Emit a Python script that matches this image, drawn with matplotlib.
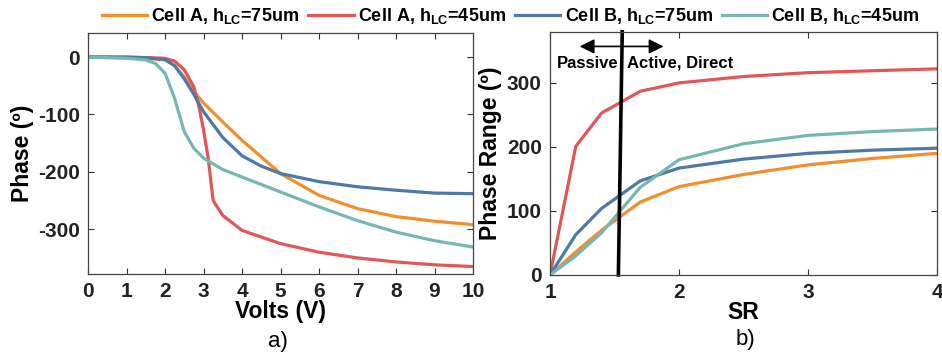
import matplotlib
matplotlib.use("Agg")
import matplotlib.pyplot as plt

plt.rcParams['font.family'] = ['Liberation Sans', 'DejaVu Sans']
plt.rcParams['mathtext.fontset'] = 'custom'
plt.rcParams['mathtext.bf'] = 'Liberation Sans:bold'
plt.rcParams['mathtext.rm'] = 'Liberation Sans'
plt.rcParams['axes.unicode_minus'] = False

# ---- data: phase vs. voltage ----
volts_a75 = [0, 1, 1.5, 2, 2.25, 2.5, 2.75, 3, 3.5, 4, 5, 6, 7, 8, 9, 10]
phase_a75 = [0, -1, -2, -5, -15, -35, -60, -80, -113, -145, -203, -241, -264, -278, -286, -292]

volts_a45 = [0, 1, 1.5, 2, 2.25, 2.5, 2.75, 2.9, 3.0, 3.12, 3.25, 3.5, 4, 5, 6, 7, 8, 9, 10]
phase_a45 = [0, 0, -1, -2, -7, -22, -52, -92, -127, -175, -250, -276, -302, -325, -340, -350, -357, -362, -365]

volts_b75 = [0, 1, 1.5, 2, 2.25, 2.5, 2.75, 3, 3.5, 4, 4.5, 5, 6, 7, 8, 9, 10]
phase_b75 = [0, 0, -1, -4, -15, -38, -65, -95, -140, -172, -190, -203, -217, -226, -232, -237, -238]

volts_b45 = [0, 1, 1.5, 1.75, 2, 2.25, 2.5, 2.75, 3, 3.5, 4, 5, 6, 7, 8, 9, 10]
phase_b45 = [0, -2, -5, -11, -28, -72, -130, -159, -176, -196, -209, -235, -261, -285, -305, -320, -331]

# ---- data: phase range vs. SR ----
sr = [1, 1.2, 1.4, 1.7, 2, 2.5, 3, 3.5, 4]
range_a75 = [0, 36, 70, 114, 138, 157, 172, 182, 190]
range_a45 = [0, 201, 253, 287, 300, 310, 316, 319, 322]
range_b75 = [0, 63, 104, 147, 167, 181, 190, 195, 198]
range_b45 = [0, 30, 66, 137, 180, 205, 218, 224, 228]

labels = [r'Cell A, h$_{\mathbf{LC}}$=75um', r'Cell A, h$_{\mathbf{LC}}$=45um',
          r'Cell B, h$_{\mathbf{LC}}$=75um', r'Cell B, h$_{\mathbf{LC}}$=45um']
colors = ['#F28E2B', '#E15759', '#4E79A7', '#76B7B2']

left_xticks = list(range(0, 11))
left_yticks = [0, -100, -200, -300]
right_xticks = [1, 2, 3, 4]
right_yticks = [0, 100, 200, 300]

lw = 2.3
fig = plt.figure(figsize=(9.42, 3.56), dpi=100)

ax1 = fig.add_axes([88/942, 82/356, 385/942, 241/356])
ax2 = fig.add_axes([550/942, 81/356, 387/942, 243.3/356])

left_series = [(volts_a75, phase_a75), (volts_a45, phase_a45),
               (volts_b75, phase_b75), (volts_b45, phase_b45)]
handles = []
for (x, y), c, lab in zip(left_series, colors, labels):
    h, = ax1.plot(x, y, color=c, lw=lw, label=lab)
    handles.append(h)

for y, c in zip([range_a75, range_a45, range_b75, range_b45], colors):
    ax2.plot(sr, y, color=c, lw=lw)

ax1.set_xlim(0, 10)
ax1.set_ylim(-378, 42)
ax1.set_xticks(left_xticks)
ax1.set_yticks(left_yticks)
ax1.set_xlabel('Volts (V)', fontsize=16.5, fontweight='bold', labelpad=-1)
ax1.set_ylabel('Phase (º)', fontsize=16.5, fontweight='bold', labelpad=3)

ax2.set_xlim(1, 4)
ax2.set_ylim(0, 380)
ax2.set_xticks(right_xticks)
ax2.set_yticks(right_yticks)
ax2.set_xlabel('SR', fontsize=16.5, fontweight='bold', labelpad=-1)
ax2.set_ylabel('Phase Range (º)', fontsize=16.5, fontweight='bold', labelpad=3)

for ax in (ax1, ax2):
    ax.tick_params(direction='in', top=True, right=True, length=4, width=0.8,
                   colors='#333333', labelcolor='#222222', labelsize=15, pad=6)
    for lab in ax.get_xticklabels() + ax.get_yticklabels():
        lab.set_fontweight('bold')
    for s in ax.spines.values():
        s.set_color('#444444')
        s.set_linewidth(0.9)

# boundary between passive and active operation
ax2.plot([1.53, 1.56], [0, 380], color='black', lw=2.6, clip_on=False)
ax2.annotate('', xy=(1.23, 357), xytext=(1.88, 357),
             arrowprops=dict(arrowstyle='<|-|>', color='black', lw=1.2,
                             mutation_scale=22, shrinkA=0, shrinkB=0))
ax2.text(1.05, 331, 'Passive', fontsize=12, fontweight='bold', va='center', ha='left')
ax2.text(1.60, 331, 'Active, Direct', fontsize=12, fontweight='bold', va='center', ha='left')

fig.text(278/942, 1 - 341/356, 'a)', fontsize=16, ha='center', va='center')
fig.text(745/942, 1 - 340/356, 'b)', fontsize=16, ha='center', va='center')

leg = fig.legend(handles=handles, loc='upper center', ncol=4,
                 bbox_to_anchor=(0.542, 1.028), frameon=False,
                 prop={'size': 13, 'weight': 'bold'},
                 handlelength=2.5, handletextpad=0.25, columnspacing=0.5)

fig.savefig('out.png', dpi=100)
